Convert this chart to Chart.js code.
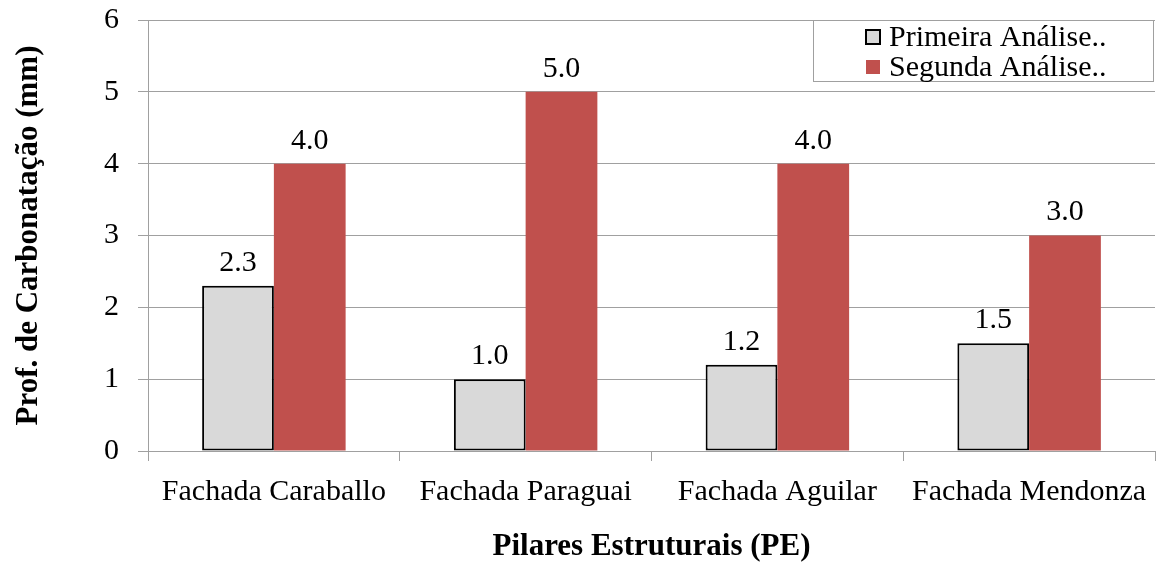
<!DOCTYPE html>
<html>
<head>
<meta charset="utf-8">
<script src="https://cdn.jsdelivr.net/npm/chart.js@4"></script>
<style>
  html, body { margin: 0; padding: 0; background: #fff; }
  #wrap { width: 1164px; height: 568px; position: relative; }
</style>
</head>
<body>
<div id="wrap"><canvas id="chart"></canvas></div>
<script>
var categories = ["Fachada Caraballo", "Fachada Paraguai", "Fachada Aguilar", "Fachada Mendonza"];
var primeira = [2.3, 1.0, 1.2, 1.5];
var segunda = [4.0, 5.0, 4.0, 3.0];
var yTicks = [0, 1, 2, 3, 4, 5, 6];
var seriesNames = ["Primeira Análise..", "Segunda Análise.."];

var serif = "'Liberation Serif', 'Times New Roman', serif";

// values printed over each bar
var valueLabels = {
  id: 'valueLabels',
  afterDatasetsDraw: function (chart) {
    var ctx = chart.ctx;
    ctx.save();
    ctx.font = "30px " + serif;
    ctx.fillStyle = "#000";
    ctx.textAlign = "center";
    ctx.textBaseline = "bottom";
    chart.data.datasets.forEach(function (ds, i) {
      chart.getDatasetMeta(i).data.forEach(function (bar, j) {
        ctx.fillText(ds.data[j].toFixed(1), bar.x, bar.y - 8);
      });
    });
    ctx.restore();
  }
};

// boxed legend in the top right corner of the plot
var boxLegend = {
  id: 'boxLegend',
  afterDraw: function (chart) {
    var ctx = chart.ctx;
    var area = chart.chartArea;
    var x0 = 813, y0 = area.top, w = area.right - 2 - x0, h = 61;
    ctx.save();
    ctx.fillStyle = "#fff";
    ctx.fillRect(x0, y0, w, h);
    ctx.strokeStyle = "#a0a0a0";
    ctx.lineWidth = 1;
    ctx.strokeRect(x0 + 0.5, y0 + 0.5, w, h);
    ctx.font = "30px " + serif;
    ctx.textBaseline = "middle";
    ctx.textAlign = "left";
    chart.data.datasets.forEach(function (ds, i) {
      var cy = y0 + 17 + i * 30;
      ctx.fillStyle = ds.backgroundColor;
      ctx.fillRect(866, cy - 7, 14, 14);
      if (ds.borderWidth) {
        ctx.strokeStyle = ds.borderColor;
        ctx.lineWidth = 2;
        ctx.strokeRect(866, cy - 7, 14, 14);
      }
      ctx.fillStyle = "#000";
      ctx.fillText(seriesNames[i], 889, cy + 1);
    });
    ctx.restore();
  }
};

new Chart(document.getElementById('chart'), {
  type: 'bar',
  data: {
    labels: categories,
    datasets: [
      {
        label: seriesNames[0],
        data: primeira,
        backgroundColor: "#d9d9d9",
        borderColor: "#000",
        borderWidth: 2,
        borderSkipped: false
      },
      {
        label: seriesNames[1],
        data: segunda,
        backgroundColor: "#c0504d",
        borderWidth: 0
      }
    ]
  },
  options: {
    responsive: true,
    maintainAspectRatio: false,
    animation: false,
    layout: { padding: { top: 20, right: 9, left: 10, bottom: 0 } },
    plugins: {
      legend: { display: false },
      tooltip: { enabled: false }
    },
    datasets: {
      bar: { categoryPercentage: 0.57, barPercentage: 1.0 }
    },
    scales: {
      x: {
        afterFit: function (axis) {
          axis.height = 117;
          axis.paddingLeft = 0;
          axis.paddingRight = 0;
        },
        grid: {
          offset: true,
          drawOnChartArea: false,
          drawTicks: true,
          tickLength: 10,
          color: "#a0a0a0"
        },
        border: { color: "#a0a0a0", width: 1 },
        ticks: {
          color: "#000",
          font: { family: serif, size: 30 },
          padding: 13,
          maxRotation: 0,
          autoSkip: false
        },
        title: {
          display: true,
          text: "Pilares Estruturais (PE)",
          color: "#000",
          font: { family: serif, size: 31, weight: 'bold' },
          padding: { top: 0, bottom: 2 }
        }
      },
      y: {
        min: 0,
        max: 6,
        afterFit: function (axis) {
          axis.width = 138;
          axis.paddingTop = 0;
          axis.paddingBottom = 0;
        },
        afterBuildTicks: function (axis) {
          axis.ticks = yTicks.map(function (v) { return { value: v }; });
        },
        grid: {
          color: "#a0a0a0",
          tickLength: 10,
          drawTicks: true
        },
        border: { color: "#a0a0a0", width: 1 },
        ticks: {
          color: "#000",
          font: { family: serif, size: 30 },
          padding: 19
        },
        title: {
          display: true,
          text: "Prof. de Carbonatação (mm)",
          color: "#000",
          font: { family: serif, size: 31, weight: 'bold' },
          padding: { top: 0, bottom: 0 }
        }
      }
    }
  },
  plugins: [valueLabels, boxLegend]
});
</script>
</body>
</html>
